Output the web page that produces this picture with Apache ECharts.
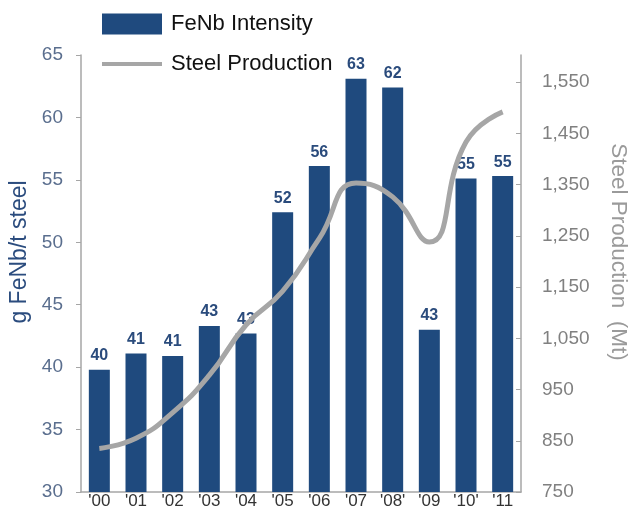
<!DOCTYPE html>
<html>
<head>
<meta charset="utf-8">
<script src="https://cdn.jsdelivr.net/npm/echarts@6/dist/echarts.min.js"></script>
<style>
html,body{margin:0;padding:0;background:#fff;}
#main{width:630px;height:513px;}
</style>
</head>
<body>
<div id="main"></div>
<script>
var categories = ["'00", "'01", "'02", "'03", "'04", "'05", "'06", "'07", "'08'", "'09", "'10'", "'11"];
var fenbIntensity = [39.8, 41.1, 40.9, 43.3, 42.7, 52.4, 56.1, 63.1, 62.4, 43.0, 55.1, 55.3];
var steelProduction = [835, 855, 905, 978, 1076, 1142, 1245, 1353, 1326, 1238, 1433, 1492];
var leftTicks = [30, 35, 40, 45, 50, 55, 60, 65];
var rightTicks = [750, 850, 950, 1050, 1150, 1250, 1350, 1450, 1550];

var FONT = 'Liberation Sans, Arial, sans-serif';
var chart = echarts.init(document.getElementById('main'), null, {renderer: 'canvas'});
chart.setOption({
  animation: false,
  backgroundColor: '#fff',
  textStyle: {fontFamily: FONT},
  legend: {
    orient: 'vertical',
    left: 102,
    top: 13,
    padding: 0,
    itemWidth: 60,
    itemHeight: 21,
    itemGap: 18,
    textStyle: {fontSize: 22, color: '#111', fontFamily: FONT, padding: [0, 0, 0, 4]},
    data: [
      {name: 'FeNb Intensity', icon: 'rect'},
      {name: 'Steel Production', icon: 'path://M0,0H60V4H0Z', itemStyle: {color: '#a6a6a6'}}
    ]
  },
  grid: {left: 81, right: 109, top: 55, bottom: 21, containLabel: false, outerBoundsMode: 'none'},
  xAxis: {
    type: 'category',
    data: categories,
    axisLine: {lineStyle: {color: '#a6a6a6', width: 1.5}},
    axisTick: {show: false},
    axisLabel: {fontSize: 17, color: '#333', margin: 1, fontFamily: FONT}
  },
  yAxis: [
    {
      type: 'value',
      min: leftTicks[0],
      max: leftTicks[leftTicks.length - 1],
      interval: 5,
      name: 'g FeNb/t steel',
      nameLocation: 'middle',
      nameGap: 48,
      nameTextStyle: {fontSize: 23, color: '#2b4c7e', fontFamily: FONT, padding: [0, 0, 0, 43]},
      axisLine: {show: true, lineStyle: {color: '#a6a6a6', width: 1.5}},
      axisTick: {show: true, length: 5, lineStyle: {color: '#a6a6a6'}},
      axisLabel: {fontSize: 19, color: '#5a6e8e', margin: 18, fontFamily: FONT},
      splitLine: {show: false}
    },
    {
      type: 'value',
      position: 'right',
      min: rightTicks[0],
      max: 1603,
      interval: 100,
      name: 'Steel Production  (Mt)',
      nameLocation: 'middle',
      nameRotate: -90,
      nameGap: 86,
      nameTextStyle: {fontSize: 22.5, color: '#9a9a9a', fontFamily: FONT, padding: [0, 43, 0, 0]},
      axisLine: {show: true, lineStyle: {color: '#a6a6a6', width: 1.5}},
      axisTick: {show: true, inside: true, length: 5, lineStyle: {color: '#a6a6a6'}, customValues: rightTicks},
      axisLabel: {fontSize: 19, color: '#808080', margin: 21, fontFamily: FONT, customValues: rightTicks,
        formatter: function (v) { return v.toLocaleString('en-US'); }},
      splitLine: {show: false}
    }
  ],
  series: [
    {
      name: 'FeNb Intensity',
      type: 'bar',
      data: fenbIntensity,
      barWidth: 21,
      itemStyle: {color: '#1f4a7e'},
      label: {
        show: true,
        position: 'top',
        distance: 6,
        fontSize: 16,
        fontWeight: 'bold',
        color: '#2a4b7c',
        fontFamily: FONT,
        formatter: function (p) { return Math.round(p.value); }
      }
    },
    {
      name: 'Steel Production',
      type: 'line',
      yAxisIndex: 1,
      data: steelProduction,
      smooth: 0.5,
      symbol: 'none',
      lineStyle: {color: '#a6a6a6', width: 5},
      itemStyle: {color: '#a6a6a6'},
      z: 5
    }
  ]
});
</script>
</body>
</html>
